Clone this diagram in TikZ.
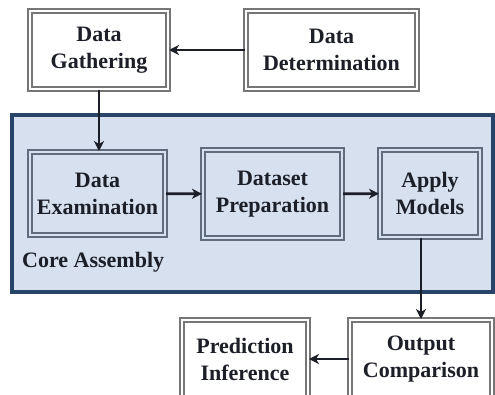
\documentclass[tikz,border=0pt]{standalone}
\usepackage{fontspec}
\setmainfont{Liberation Serif}
\usetikzlibrary{arrows.meta}
\definecolor{panelblue}{RGB}{214,224,238}
\definecolor{panelline}{RGB}{40,68,104}
\definecolor{boxgray}{RGB}{118,118,118}
\definecolor{coregray}{RGB}{96,108,124}
\definecolor{inkdark}{RGB}{28,30,40}
\tikzstyle{stage}=[rectangle,draw=boxgray,line width=2pt,double=white,double distance=1.1pt,fill=white,align=center,inner sep=2pt,text=inkdark,font=\fontsize{22}{27}\selectfont\bfseries]
\tikzstyle{corestage}=[stage,draw=coregray,double=panelblue,fill=panelblue]
\tikzstyle{assembly}=[rectangle,draw=panelline,line width=3.5pt,fill=panelblue,inner sep=0pt]
\tikzstyle{edge}=[draw=inkdark,line width=2.6pt,-{Stealth[length=10pt,width=10pt,inset=3pt]}]

\begin{document}
\begin{tikzpicture}[x=1pt,y=-1pt]
        \useasboundingbox (0,0) rectangle (495,394);
        \node[assembly,minimum width=481pt,minimum height=177pt] (core) at (252.5,203.5) {};
        \node[font=\fontsize{22}{24}\selectfont\bfseries,text=inkdark,anchor=west,inner sep=0pt] (corelabel) at (22,262) {Core Assembly};
        \node[stage,minimum width=138pt,minimum height=78pt] (gather) at (99,50) {Data\\Gathering};
        \node[stage,minimum width=171pt,minimum height=78pt] (determ) at (331.5,50) {Data\\Determination};
        \node[corestage,minimum width=135pt,minimum height=83pt] (exam) at (97.5,193.5) {Data\\Examination};
        \node[corestage,minimum width=139pt,minimum height=88pt] (prep) at (272.5,194) {Dataset\\Preparation};
        \node[corestage,minimum width=100pt,minimum height=87pt] (apply) at (430,193.5) {Apply\\Models};
        \node[stage,minimum width=142pt,minimum height=78pt] (outcmp) at (421,359) {Output\\Comparison};
        \node[stage,minimum width=126pt,minimum height=78pt] (predinf) at (245,359) {Prediction\\Inference};
        \path[edge] (determ) -- (gather);
        \path[edge] (gather.south) -- (gather.south |- exam.north);
        \path[edge] (exam) -- (prep);
        \path[edge] (prep) -- (apply);
        \path[edge] (outcmp.north |- apply.south) -- (outcmp.north);
        \path[edge] (outcmp) -- (predinf);
    \end{tikzpicture}
\end{document}
